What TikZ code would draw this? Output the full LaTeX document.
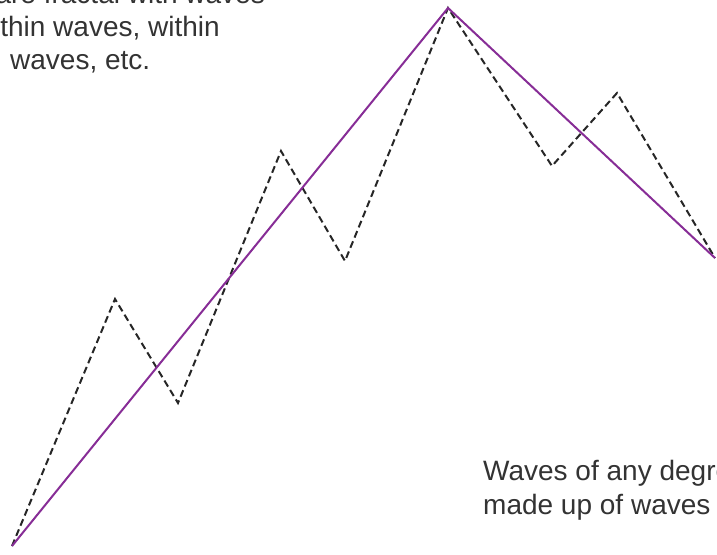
\documentclass[tikz,border=0pt]{standalone}
\usepackage{fontspec}
\setmainfont{Liberation Sans}
\usepackage{tikz}
\usetikzlibrary{positioning}
\definecolor{trendpurple}{RGB}{135,45,150}

\begin{document}
\begin{tikzpicture}[
    x=1pt, y=-1pt,
    subwave/.style={draw=black!85, line width=2pt, dash pattern=on 7pt off 4pt, line join=miter},
    trend/.style={draw=trendpurple, line width=2pt, line join=miter},
    caption/.style={font=\fontsize{28}{33}\selectfont, inner sep=0pt, text=black!80},
]
\useasboundingbox (0,0) rectangle (717,554);
\clip (0,0) rectangle (717,554);

% turning points of the waves
\coordinate (p0) at (12,546);
\coordinate (p1) at (115,299);
\coordinate (p2) at (178,403);
\coordinate (p3) at (281,151);
\coordinate (p4) at (345,261);
\coordinate (p5) at (448,8);
\coordinate (p6) at (552,166);
\coordinate (p7) at (617,93);
\coordinate (p8) at (715,258);

% smaller waves
\draw[subwave] (p0) -- (p1) -- (p2) -- (p3) -- (p4) -- (p5) -- (p6) -- (p7) -- (p8);

% larger wave
\draw[trend] (p0) -- (p5) -- (p8);

% captions
\node[caption, anchor=base east] (capA) at (265,3) {are fractal with waves};
\node[caption, anchor=base east] (capB) at (220,36) {within waves, within};
\node[caption, anchor=base west] (capC) at (10,69) {waves, etc.};

\node[caption, anchor=base west] (capD) at (483,480) {Waves of any degree};
\node[caption, anchor=base west] (capE) at (483,514) {made up of waves of};

\end{tikzpicture}
\end{document}
